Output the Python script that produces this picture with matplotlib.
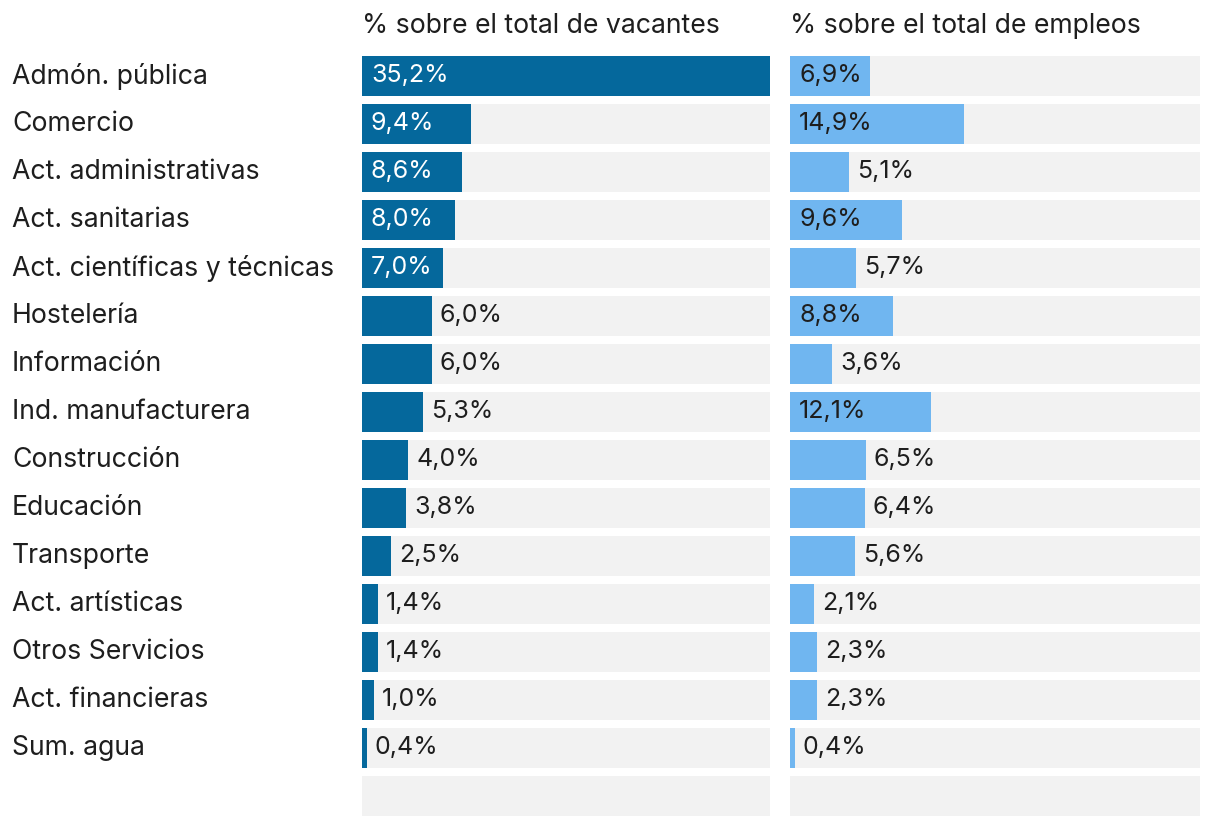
import matplotlib
matplotlib.use("Agg")
import matplotlib.pyplot as plt

categories = ["Admón. pública", "Comercio", "Act. administrativas", "Act. sanitarias",
              "Act. científicas y técnicas", "Hostelería", "Información", "Ind. manufacturera",
              "Construcción", "Educación", "Transporte", "Act. artísticas", "Otros Servicios",
              "Act. financieras", "Sum. agua"]
vacantes = [35.2, 9.4, 8.6, 8.0, 7.0, 6.0, 6.0, 5.3, 4.0, 3.8, 2.5, 1.4, 1.4, 1.0, 0.4]
empleos = [6.9, 14.9, 5.1, 9.6, 5.7, 8.8, 3.6, 12.1, 6.5, 6.4, 5.6, 2.1, 2.3, 2.3, 0.4]
titles = ["% sobre el total de vacantes", "% sobre el total de empleos"]

W, H = 1220, 826
fig = plt.figure(figsize=(W / 100, H / 100), dpi=100)
plt.rcParams['font.family'] = ['Inter', 'DejaVu Sans']

DARK = "#05689c"
LIGHT = "#70b6f0"
GREY = "#f2f2f2"
TXT = "#1e1e1e"
FS_VAL = 18
FS_LAB = 19.2

nrows = len(categories) + 1
domain = max(vacantes)
top_px, bot_px = 56, 816
row_px = 48
bar_h = 40 / 48

def px_axes(x0, x1):
    return fig.add_axes([x0 / W, 1 - bot_px / H, (x1 - x0) / W, (bot_px - top_px) / H])

panels = [(362, 770, vacantes, DARK, "white"), (790, 1200, empleos, LIGHT, TXT)]
for (x0, x1, vals, col, intxt), title in zip(panels, titles):
    ax = px_axes(x0, x1)
    ys = list(range(nrows))
    ax.barh(ys, [domain] * nrows, height=bar_h, color=GREY, left=0)
    ax.barh(ys[:len(vals)], vals, height=bar_h, color=col)
    ax.set_xlim(0, domain)
    pad = 20 / 48
    ax.set_ylim(nrows - 1 + pad, -pad)
    ax.axis("off")
    for i, v in enumerate(vals):
        lab = f"{v:.1f}%".replace(".", ",")
        if v >= 6.8:
            ax.annotate(lab, (0, i), xytext=(9 * 0.72, 0), textcoords="offset points",
                        va="center", ha="left", fontsize=FS_VAL, color=intxt)
        else:
            ax.annotate(lab, (v, i), xytext=(8 * 0.72, 0), textcoords="offset points",
                        va="center", ha="left", fontsize=FS_VAL, color=TXT)
    fig.text(x0 / W, 1 - 26 / H, title, ha="left", va="center", fontsize=FS_LAB, color=TXT)

for i, c in enumerate(categories):
    fig.text(12 / W, 1 - (76 + row_px * i) / H, c, ha="left", va="center", fontsize=FS_LAB, color=TXT)

fig.savefig("out.png", dpi=100, facecolor="white")
